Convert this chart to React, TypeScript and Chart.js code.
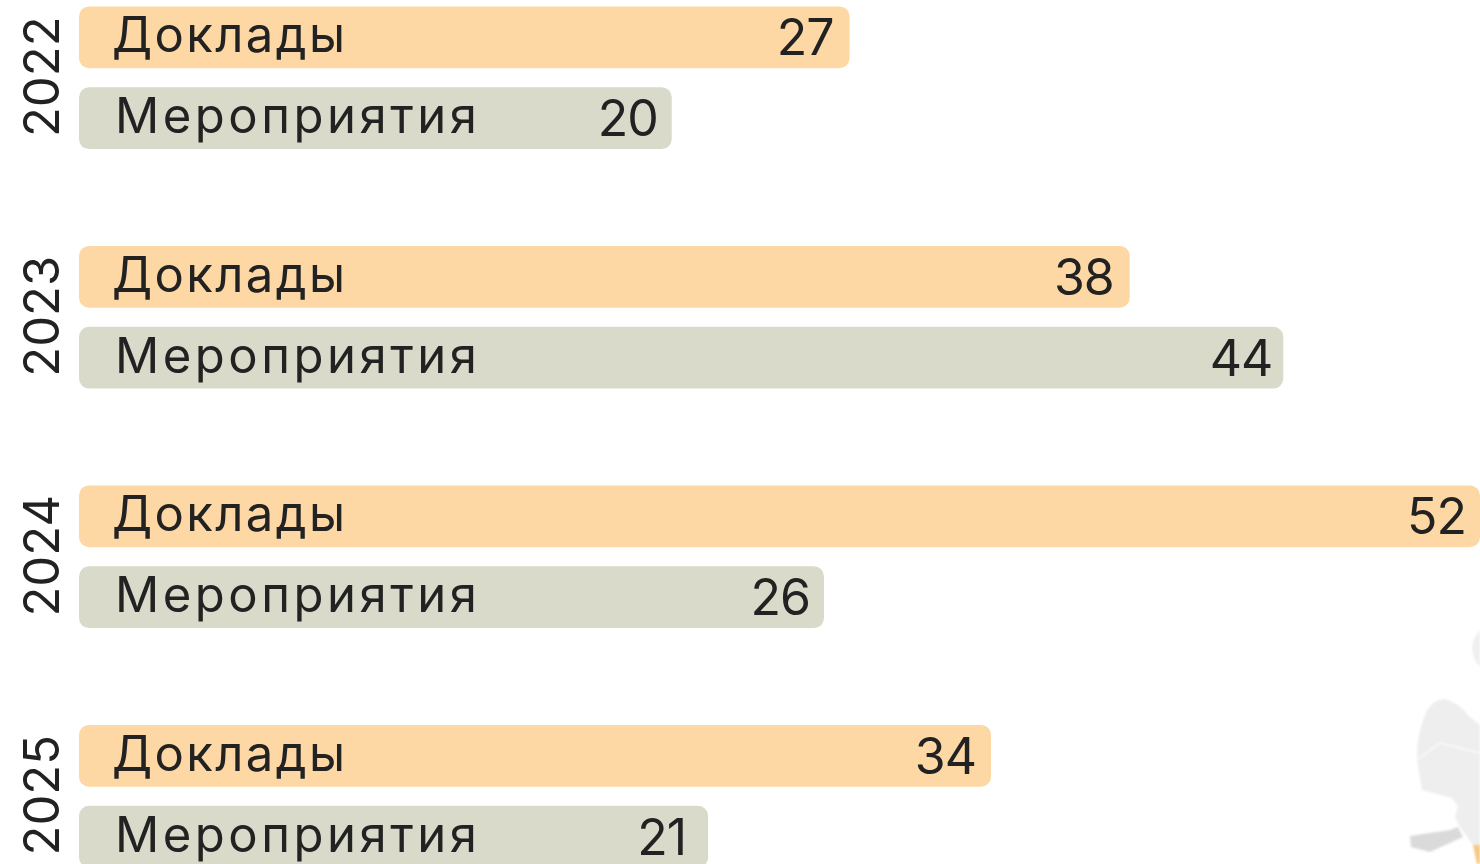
import React, { useEffect, useRef } from "react";
import { Chart, registerables } from "chart.js";

Chart.register(...registerables);

const years = ["2022", "2023", "2024", "2025"];
const seriesNames = ["Доклады", "Мероприятия"];
// Numbers printed on the bars
const reportLabels = [27, 38, 52, 34];
const eventLabels = [20, 44, 26, 21];
// Bar lengths as measured in the picture (the drawn lengths are not strictly proportional to the printed numbers)
const reportLengths = [28.6, 39.0, 52, 33.85];
const eventLengths = [22.0, 44.7, 27.65, 23.35];
const axisMax = 52;

const FONT = "Inter, 'Open Sans', sans-serif";
const TEXT = "#222222";
const nameSpacing = ["2.4px", "3.5px"];
const nameLeft = [112, 115];
const valueInsets = [
  [16, 16, 14, 15],
  [14, 11, 14, 22],
];

const textPlugin = {
  id: "barText",
  afterDatasetsDraw(chart: any) {
    const ctx = chart.ctx;
    const yScale = chart.scales.y;
    ctx.save();
    ctx.fillStyle = TEXT;
    const printed = [reportLabels, eventLabels];
    chart.data.datasets.forEach((_: any, d: number) => {
      chart.getDatasetMeta(d).data.forEach((bar: any, i: number) => {
        ctx.font = `400 49px ${FONT}`;
        ctx.letterSpacing = nameSpacing[d];
        ctx.textAlign = "left";
        ctx.textBaseline = "alphabetic";
        ctx.fillText(seriesNames[d], nameLeft[d], bar.y + 15);
        ctx.font = `400 50px ${FONT}`;
        ctx.letterSpacing = "-1px";
        ctx.textAlign = "right";
        ctx.fillText(String(printed[d][i]), bar.x - valueInsets[d][i], bar.y + 18);
      });
    });
    years.forEach((y, i) => {
      ctx.save();
      ctx.translate(59, yScale.getPixelForValue(i) - 1);
      ctx.rotate(-Math.PI / 2);
      ctx.font = `400 49px ${FONT}`;
      ctx.letterSpacing = "0px";
      ctx.textAlign = "center";
      ctx.textBaseline = "alphabetic";
      ctx.fillText(y, 0, 0);
      ctx.restore();
    });
    ctx.restore();
  },
};

export default function App() {
  const ref = useRef<HTMLCanvasElement>(null);
  useEffect(() => {
    const chart = new Chart(ref.current as HTMLCanvasElement, {
      type: "bar",
      data: {
        labels: years,
        datasets: [
          {
            label: seriesNames[0],
            data: reportLengths,
            backgroundColor: "#FDD8A5",
            borderRadius: 10,
            borderSkipped: false,
            categoryPercentage: 0.675,
            barPercentage: 0.765,
          },
          {
            label: seriesNames[1],
            data: eventLengths,
            backgroundColor: "#D9DACA",
            borderRadius: 10,
            borderSkipped: false,
            categoryPercentage: 0.675,
            barPercentage: 0.765,
          },
        ],
      },
      options: {
        indexAxis: "y",
        animation: false,
        responsive: false,
        maintainAspectRatio: false,
        layout: { padding: { left: 79, right: 0, top: 58, bottom: 84 } },
        plugins: { legend: { display: false }, tooltip: { enabled: false } },
        scales: {
          x: { display: false, min: 0, max: axisMax },
          y: { display: false },
        },
      },
      plugins: [textPlugin],
    } as any);
    return () => chart.destroy();
  }, []);

  return (
    <div style={{ position: "fixed", left: 0, top: 0, width: 1480, height: 864, overflow: "hidden", background: "#fff" }}>
      <svg width={1480} height={864} style={{ position: "absolute", left: 0, top: 0, filter: "blur(1px)" }}>
        <path d="M1480 630 Q1472 640 1472 648 Q1473 660 1480 667 Z" fill="#EFEFEF" />
        <path d="M1417 760 Q1416 735 1427 710 Q1435 699 1445 699 Q1458 702 1470 717 L1480 725 L1480 845 L1473 845 L1460 827 L1455 817 L1458 807 L1452 798 L1422 790 Z" fill="#EEEEEE" />
        <path d="M1417 760 L1440 743 L1480 753" fill="none" stroke="#F8F8F8" strokeWidth={2} />
        <path d="M1410 836 L1450 830 L1458 827 L1463 837 L1430 852 L1411 847 Z" fill="#DADADA" />
        <path d="M1473 845 L1480 845 L1480 864 L1477 864 Z" fill="#F9C77E" />
      </svg>
      <canvas ref={ref} width={1480} height={1100} style={{ position: "absolute", left: 0, top: -100, filter: "blur(0.6px)" }} />
    </div>
  );
}
